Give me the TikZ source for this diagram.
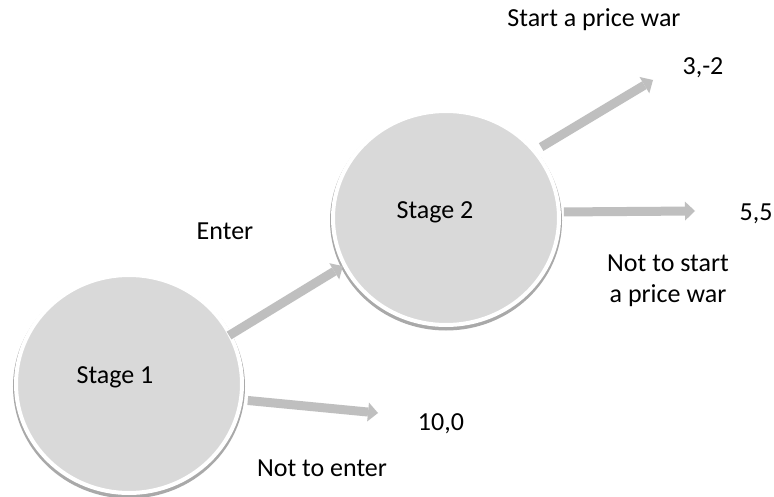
\documentclass[tikz,border=0pt]{standalone}
\usepackage{fontspec}
\setmainfont{Carlito}
\usetikzlibrary{arrows.meta,shapes.geometric}

\definecolor{stagefill}{HTML}{D9D9D9}
\definecolor{arrowgray}{HTML}{BFBFBF}
\definecolor{shadowgray}{HTML}{A9A9A9}

\tikzset{
  stagenode/.style={ellipse, inner sep=0pt, fill=stagefill, draw=white, line width=4pt,
    preaction={draw=shadowgray, line width=6pt, transform canvas={yshift=-2.5pt}}},
  label26/.style={font=\fontsize{26}{31}\selectfont, inner sep=0pt, anchor=base, align=center},
  movearrow/.style={draw=arrowgray, line width=9pt,
    -{Triangle[length=10pt,width=19pt,line width=0pt]}},
}

\begin{document}
\begin{tikzpicture}[x=1pt,y=-1pt]
  \useasboundingbox (0,0) rectangle (774,497);
  \fill[white] (0,0) rectangle (774,497);

  % decision stages
  \node[stagenode, minimum width=226pt, minimum height=218pt] (s1) at (129,384) {};
  \node[stagenode, minimum width=226pt, minimum height=214pt] (s2) at (446,218) {};
  \node[label26] (t1) at (115,383) {Stage 1};
  \node[label26] (t2) at (435,219) {Stage 2};

  % free ends of the terminal branches
  \coordinate (e2) at (378,413);
  \coordinate (e3) at (653,80);
  \coordinate (e4) at (695,211);

  % branches
  \draw[movearrow, shorten <=-3pt] (s1.26) -- (s2.205);
  \draw[movearrow, shorten <=5pt] (s1.-8.7) -- (e2);
  \draw[movearrow, shorten <=6pt] (s2.37) -- (e3);
  \draw[movearrow, shorten <=3pt] (s2.3.5) -- (e4);

  % move labels and payoffs
  \node[label26] (enter) at (225,240) {Enter};
  \node[label26] (noenter) at (322,476) {Not to enter};
  \node[label26] (p10) at (441,430) {10,0};
  \node[label26] (war) at (594,27) {Start a price war};
  \node[label26] (p32) at (703,75) {3,-2};
  \node[label26] (p55) at (756,221) {5,5};
  % base anchor of a two-line node sits on its last line
  \node[label26] (nowar) at (668,302) {Not to start\\a price war};
\end{tikzpicture}
\end{document}
